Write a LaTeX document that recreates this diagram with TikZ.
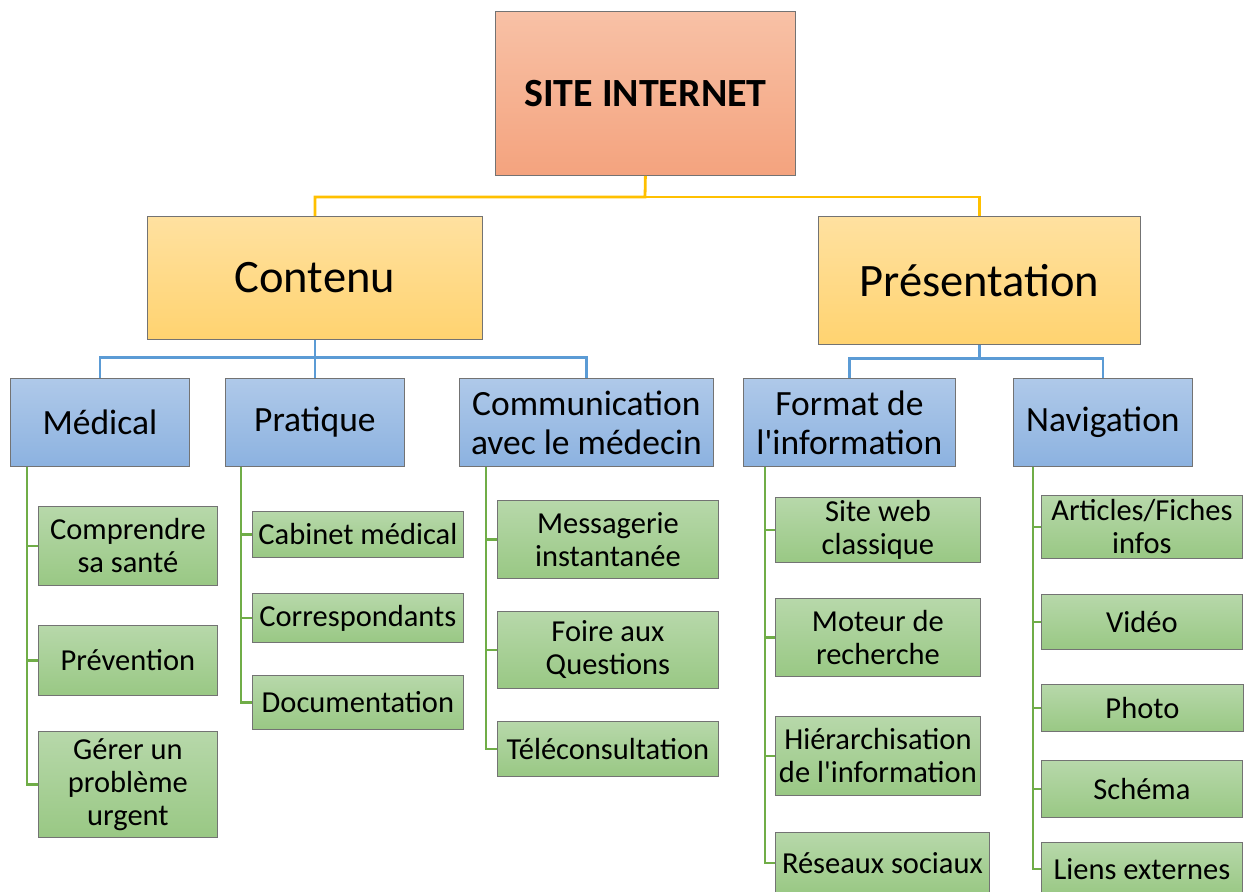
\documentclass[tikz,border=0pt]{standalone}
\usepackage{fontspec}
\setmainfont{Carlito}[Ligatures=TeXOff]
\begin{document}
\begin{tikzpicture}[x=1pt,y=-1pt,
  box/.style={draw=black!55, line width=0.8pt, rectangle, anchor=north west, inner sep=0pt, align=center, text=black},
  rootbox/.style={box, top color=rootT, bottom color=rootB, font=\fontsize{40}{44}\selectfont\bfseries},
  lvone/.style={box, top color=yelT, bottom color=yelB, font=\fontsize{46.5}{50}\selectfont},
  lvtwo/.style={box, top color=bluT, bottom color=bluB, font=\fontsize{35.5}{39}\selectfont},
  leaf/.style={box, top color=grnT, bottom color=grnB, font=\fontsize{30.5}{33}\selectfont},
  yl/.style={draw=yelL, line width=2.8pt},
  bl/.style={draw=bluL, line width=2.8pt},
  gl/.style={draw=grnL, line width=2.8pt}
]
\definecolor{rootT}{HTML}{F8C1A6}
\definecolor{rootB}{HTML}{F4A37E}
\definecolor{yelT}{HTML}{FFE1A0}
\definecolor{yelB}{HTML}{FFD370}
\definecolor{bluT}{HTML}{AFC9E9}
\definecolor{bluB}{HTML}{8CB2E0}
\definecolor{grnT}{HTML}{B7D8AA}
\definecolor{grnB}{HTML}{99C884}
\definecolor{yelL}{HTML}{FFC000}
\definecolor{bluL}{HTML}{5B9BD5}
\definecolor{grnL}{HTML}{70AD47}
\useasboundingbox (0,0) rectangle (1244,891);
\clip (0,0) rectangle (1244,891);
\fill[white] (0,0) rectangle (1244,891);

% root and level 1
\node[rootbox, minimum width=300pt, minimum height=164pt] (root) at (495,11) {SITE INTERNET};
\node[lvone, minimum width=335pt, minimum height=123pt] (contenu) at (147,216) {Contenu};
\node[lvone, minimum width=322pt, minimum height=128pt] (pres) at (818,216) {Présentation};

% level 2
\node[lvtwo, minimum width=179pt, minimum height=88pt] (medical) at (10,378) {Médical};
\node[lvtwo, minimum width=179pt, minimum height=88pt] (pratique) at (225,378) {Pratique};
\node[lvtwo, minimum width=254pt, minimum height=88pt] (comm) at (459,378) {Communication\\avec le médecin};
\node[lvtwo, minimum width=212pt, minimum height=88pt] (format) at (743,378) {Format de\\l'information};
\node[lvtwo, minimum width=179pt, minimum height=88pt] (navig) at (1013,378) {Navigation};

% leaves - Médical
\node[leaf, minimum width=179pt, minimum height=79pt] (m1) at (38,506) {Comprendre\\sa santé};
\node[leaf, minimum width=179pt, minimum height=70pt] (m2) at (38,625) {Prévention};
\node[leaf, minimum width=179pt, minimum height=106pt] (m3) at (38,731) {Gérer un\\problème\\urgent};
% leaves - Pratique
\node[leaf, minimum width=211pt, minimum height=46pt] (p1) at (252,511) {Cabinet médical};
\node[leaf, minimum width=211pt, minimum height=49pt] (p2) at (252,593) {Correspondants};
\node[leaf, minimum width=211pt, minimum height=54pt] (p3) at (252,675) {Documentation};
% leaves - Communication
\node[leaf, minimum width=221pt, minimum height=78pt] (c1) at (497,500) {Messagerie\\instantanée};
\node[leaf, minimum width=221pt, minimum height=77pt] (c2) at (497,611) {Foire aux\\Questions};
\node[leaf, minimum width=221pt, minimum height=55pt] (c3) at (497,721) {Téléconsultation};
% leaves - Format
\node[leaf, minimum width=205pt, minimum height=65pt] (f1) at (775,497) {Site web\\classique};
\node[leaf, minimum width=205pt, minimum height=78pt] (f2) at (775,598) {Moteur de\\recherche};
\node[leaf, minimum width=205pt, minimum height=79pt] (f3) at (775,716) {Hiérarchisation\\de l'information};
\node[leaf, minimum width=214pt, minimum height=61pt] (f4) at (775,832) {Réseaux sociaux};
% leaves - Navigation
\node[leaf, minimum width=201pt, minimum height=63pt] (n1) at (1041,495) {Articles/Fiches\\infos};
\node[leaf, minimum width=201pt, minimum height=55pt] (n2) at (1041,594) {Vidéo};
\node[leaf, minimum width=202pt, minimum height=47pt] (n3) at (1041,684) {Photo};
\node[leaf, minimum width=201pt, minimum height=57pt] (n4) at (1041,760) {Schéma};
\node[leaf, minimum width=201pt, minimum height=53pt] (n5) at (1041,842) {Liens externes};

% connectors
\coordinate (yj) at (645,197);
\draw[yl] (root.south) -- (yj) -| (contenu.north);
\draw[yl] (yj) -| (pres.north);

\draw[bl] (contenu.south) -- ++(0,18) coordinate (bj1) -| (medical.north);
\draw[bl] (bj1) -| (pratique.north);
\draw[bl] (bj1) -| (comm.north);
\draw[bl] (pres.south) -- ++(0,14) coordinate (bj2) -| (format.north);
\draw[bl] (bj2) -| (navig.north);

\foreach \c in {m1,m2,m3} \draw[gl] ([xshift=17pt]medical.south west) |- (\c.west);
\foreach \c in {p1,p2,p3} \draw[gl] ([xshift=16pt]pratique.south west) |- (\c.west);
\foreach \c in {c1,c2,c3} \draw[gl] ([xshift=27pt]comm.south west) |- (\c.west);
\foreach \c in {f1,f2,f3,f4} \draw[gl] ([xshift=22pt]format.south west) |- (\c.west);
\foreach \c in {n1,n2,n3,n4,n5} \draw[gl] ([xshift=20pt]navig.south west) |- (\c.west);
\end{tikzpicture}
\end{document}
